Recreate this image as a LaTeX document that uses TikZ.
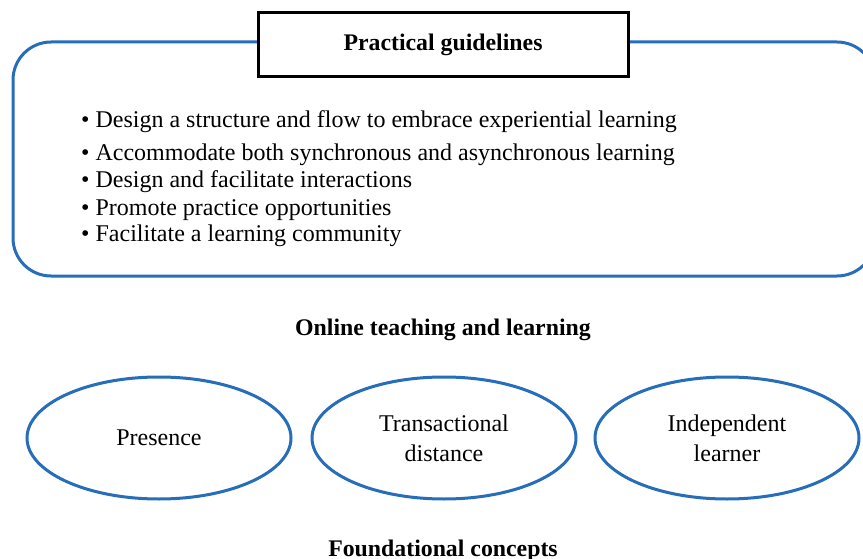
\documentclass[tikz,border=0pt]{standalone}
\usepackage{fontspec}
\setmainfont{Liberation Serif}
\usetikzlibrary{shapes.geometric}
\definecolor{frameblue}{RGB}{38,110,185}
\tikzset{
  txt/.style={font=\fontsize{24}{30}\selectfont, inner sep=0pt},
  btxt/.style={font=\fontsize{23.8}{30}\selectfont\bfseries, inner sep=0pt},
  bullet/.style={txt, anchor=base west},
  concept/.style={draw=frameblue, line width=3pt, ellipse, minimum width=264pt, minimum height=122pt, inner sep=0pt, align=center, font=\fontsize{24}{30}\selectfont},
  frame/.style={draw=frameblue, line width=3pt, rounded corners=38pt, minimum width=862pt, minimum height=234pt, inner sep=0pt},
  titlebox/.style={draw=black, line width=3pt, fill=white, minimum width=370pt, minimum height=64pt, inner sep=0pt, font=\fontsize{23.8}{30}\selectfont\bfseries}
}
\begin{document}
\begin{tikzpicture}[x=1pt,y=-1pt]
\useasboundingbox (0,0) rectangle (863,559);
\clip (0,0) rectangle (863,559);
\fill[white] (0,0) rectangle (863,559);
\node[frame] (guide) at (444,159) {};
\node[titlebox] (title) at (443,45) {Practical guidelines};
\node[bullet] (g1) at (81,128) {• Design a structure and flow to embrace experiential learning};
\node[bullet] (g2) at (81,161) {• Accommodate both synchronous and asynchronous learning};
\node[bullet] (g3) at (81,187.5) {• Design and facilitate interactions};
\node[bullet] (g4) at (81,215) {• Promote practice opportunities};
\node[bullet] (g5) at (81,242) {• Facilitate a learning community};
\node[btxt, anchor=base] (online) at (443,335) {Online teaching and learning};
\node[concept] (presence) at (159,438) {Presence};
\node[concept] (transact) at (444,438) {Transactional\\distance};
\node[concept] (indep) at (727,438) {Independent\\learner};
\node[btxt, anchor=base] (found) at (443,556) {Foundational concepts};
\end{tikzpicture}
\end{document}
